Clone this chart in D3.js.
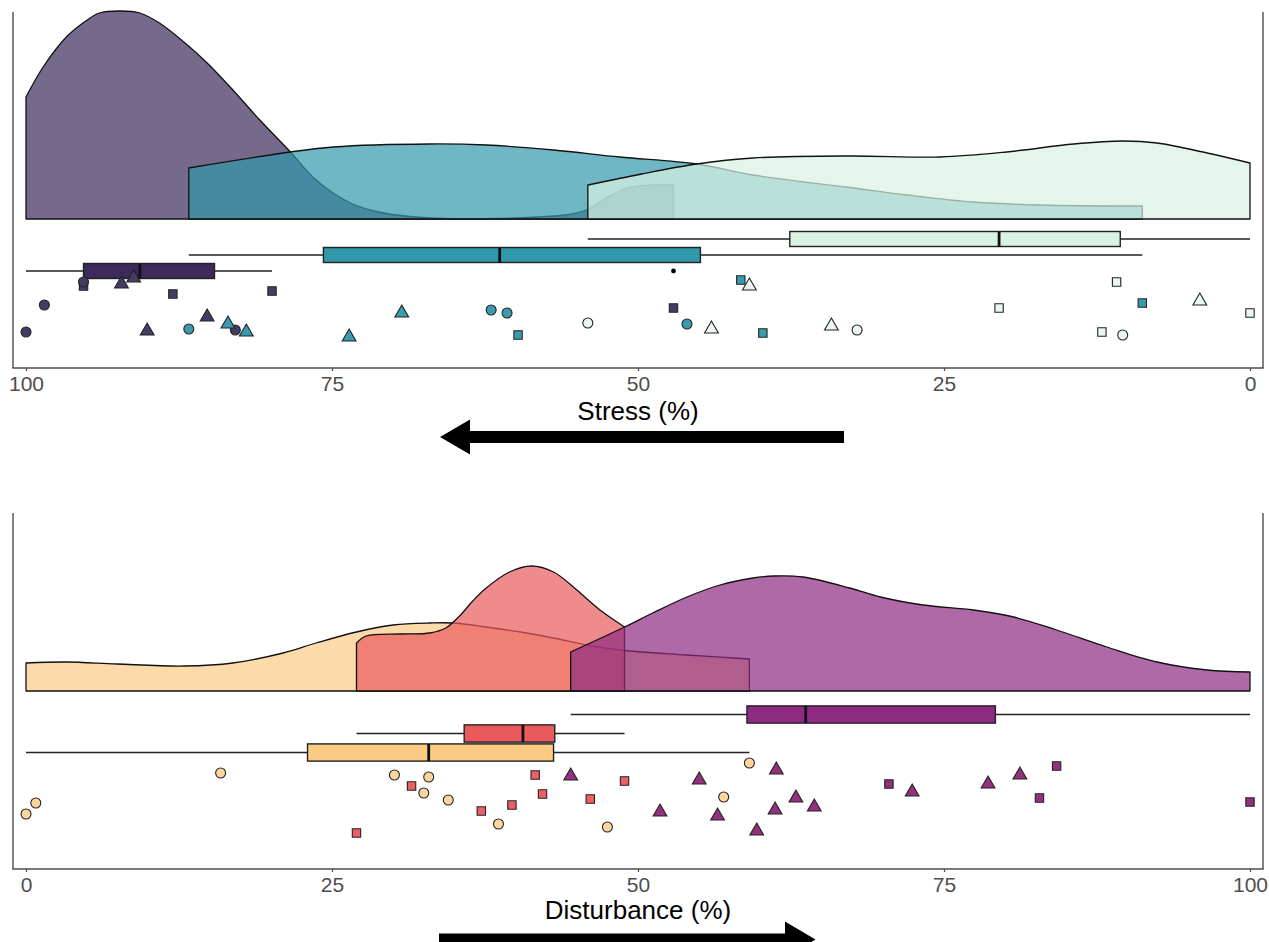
<!DOCTYPE html>
<html><head><meta charset="utf-8">
<script src="https://cdn.jsdelivr.net/npm/d3@7"></script>
<style>
body{margin:0;background:#fff;}
svg{display:block;}
text{font-family:"Liberation Sans", Arial, sans-serif;}
</style>
</head><body>
<svg id="chart" width="1269" height="942"></svg>
<script>
// ---------------- DATA ----------------
const axisTicks = [0, 25, 50, 75, 100];
const stressTitle = "Stress (%)";
const disturbTitle = "Disturbance (%)";

// Stress panel groups
const stressGroups = ["Group 1", "Group 2", "Group 3"];
const stressColors = ["#3b2a5b", "#3298ab", "#d9f2e3"];
const stressPointColors = ["#453c66", "#3a9aae", "#eaf7ef"];

// density curves (value, relative height)
const stressDens1X = [100, 98.6, 96.7, 95.0, 94.0, 92.3, 90.7, 89.1, 87.1, 85.2, 83.1, 80.9, 78.4, 76.3, 73.5, 70.8, 67.0, 62.0, 58.2, 56.0, 54.2, 52.6, 50.9, 48.8, 47.1];
const stressDens1Y = [122, 152, 182, 199, 206, 208, 206, 196, 177, 156, 129, 99, 67, 39, 16, 6, 1, 0.5, 2, 4, 9, 21, 31, 34, 34];
const stressDens2X = [86.7, 78.4, 74.9, 67.0, 62.4, 56.9, 51.5, 45.2, 40.6, 33.0, 28.0, 22.6, 17.2, 8.8];
const stressDens2Y = [51, 67, 72, 75, 74, 69, 62, 55, 44, 32, 24, 17, 14, 13];
const stressDens3X = [54.1, 49.7, 45.2, 40.6, 32.7, 25.3, 19.9, 14.4, 10.4, 7.6, 3.5, 0];
const stressDens3Y = [34, 45, 55, 61, 63, 62, 67, 75, 78, 76, 66, 56];

// box stats: [min, q1, median, q3, max]
const stressBox1 = [79.9, 84.6, 90.7, 95.3, 100];
const stressBox2 = [8.8, 44.9, 61.3, 75.7, 86.7];
const stressBox3 = [0, 10.6, 20.5, 37.6, 54.1];
const stressOutliers1 = [47.1];

// raw points
const stressPtGroup = [0,0,0,0,0,0,0,0,0,0,0,0, 1,1,1,1,1,1,1,1,1,1,1,1, 2,2,2,2,2,2,2,2,2,2,2];
const stressPtValue = [100, 98.5, 95.3, 95.3, 92.2, 91.2, 88.0, 79.9, 90.1, 85.2, 82.9, 47.1,
                       86.7, 83.5, 82.0, 73.6, 69.3, 62.0, 60.7, 59.8, 46.0, 41.6, 39.8, 8.8,
                       54.1, 44.0, 40.9, 34.2, 32.1, 20.5, 12.1, 10.9, 10.4, 4.1, 0];
const stressPtShape = ["circle","circle","square","circle","triangle","triangle","square","square","triangle","triangle","circle","square",
                       "circle","triangle","triangle","triangle","triangle","circle","circle","square","circle","square","square","square",
                       "circle","triangle","triangle","triangle","circle","square","square","square","circle","triangle","square"];
const stressPtJitter = [36, 63, 82, 86, 84, 90, 74, 77, 37, 51, 38, 60,
                        39, 44, 36, 31, 55, 58, 55, 33, 44, 88, 35, 65,
                        45, 39, 82, 42, 38, 60, 36, 86, 33, 67, 55];

// Disturbance panel groups
const disturbGroups = ["Group 1", "Group 2", "Group 3"];
const disturbColors = ["#fbcb84", "#ea5a5c", "#8e2a82"];
const disturbPointColors = ["#fcd69e", "#ec6064", "#93317f"];

const disturbDens1X = [0, 3.3, 7.4, 12.9, 16.9, 21.0, 23.7, 27.0, 30.0, 33.0, 34.9, 37.6, 40.4, 43.1, 45.8, 48.5, 54.0, 59.1];
const disturbDens1Y = [28, 29, 27, 25, 28, 38, 48, 59, 66, 68, 68, 64, 59, 53, 46, 41, 36, 32];
const disturbDens2X = [27.0, 27.8, 30.6, 33.0, 34.3, 35.5, 36.5, 37.6, 39.5, 41.3, 43.1, 45.0, 46.9, 48.9];
const disturbDens2Y = [48, 55, 57, 58, 63, 76, 90, 103, 119, 125, 119, 101, 81, 64];
const disturbDens3X = [44.5, 48.9, 51.2, 54.0, 56.7, 59.4, 61.1, 63.5, 67.3, 69.8, 73.3, 77.4, 80.7, 84.2, 88.3, 92.4, 96.5, 100];
const disturbDens3Y = [39, 64, 78, 94, 106, 113, 115, 114, 103, 94, 86, 81, 74, 61, 44, 29, 21, 19];

const disturbBox1 = [0, 23.0, 32.9, 43.1, 59.1];
const disturbBox2 = [27.0, 35.8, 40.6, 43.2, 48.9];
const disturbBox3 = [44.5, 58.9, 63.7, 79.2, 100];

const disturbPtGroup = [0,0,0,0,0,0,0,0,0,0,0, 1,1,1,1,1,1,1,1, 2,2,2,2,2,2,2,2,2,2,2,2,2,2,2,2];
const disturbPtValue = [0, 0.8, 15.9, 30.1, 32.9, 32.5, 34.5, 38.6, 47.5, 57.0, 59.1,
                        27.0, 31.5, 37.2, 39.7, 41.6, 42.2, 46.1, 48.9,
                        44.5, 51.8, 55.0, 56.5, 59.7, 61.3, 61.2, 62.9, 64.4, 72.4, 78.6, 81.2, 70.5, 82.8, 84.2, 100];
const disturbPtShape = ["circle","circle","circle","circle","circle","circle","circle","circle","circle","circle","circle",
                        "square","square","square","square","square","square","square","square",
                        "triangle","triangle","triangle","triangle","triangle","triangle","triangle","triangle","triangle","triangle","triangle","triangle",
                        "square","square","square","square"];
const disturbPtJitter = [55, 66, 96, 94, 92, 76, 69, 45, 42, 72, 106,
                         36, 83, 58, 64, 94, 75, 70, 88,
                         93, 57, 89, 53, 38, 99, 59, 71, 62, 77, 85, 94, 85, 71, 103, 67];

// ---------------- DRAWING ----------------
const svg = d3.select("#chart");
const AXIS_COL = "#4d4d4d";
const DENS_ALPHA = 0.7;

const shapeMap = {circle: d3.symbolCircle, square: d3.symbolSquare, triangle: d3.symbolTriangle};
const sizeMap = {circle: 78, square: 70, triangle: 82};

function drawPanel(cfg) {
  const g = svg.append("g");
  const x = d3.scaleLinear().domain(cfg.domain).range([26, 1250]);
  const y = d3.scaleLinear().domain([0, 356]).range([cfg.bottom, cfg.bottom - 356]);

  // densities
  cfg.dens.forEach((dd, i) => {
    const pts = dd[0].map((v, k) => [v, dd[1][k]]);
    const area = d3.area()
      .x(d => x(d[0]))
      .y0(y(cfg.densBase))
      .y1(d => y(cfg.densBase + d[1]))
      .curve(d3.curveCatmullRom.alpha(0.5));
    g.append("path")
      .attr("d", area(pts) )
      .attr("fill", cfg.colors[i])
      .attr("fill-opacity", DENS_ALPHA)
      .attr("stroke", "#111")
      .attr("stroke-width", 1.3)
      .attr("stroke-linejoin", "round");
  });

  // boxes
  cfg.boxes.forEach((b, i) => {
    const cy = y(cfg.boxRows[i]);
    const hh = cfg.boxHalf;
    const bg = g.append("g");
    bg.append("line").attr("x1", x(b[0])).attr("x2", x(b[1])).attr("y1", cy).attr("y2", cy)
      .attr("stroke", "#222").attr("stroke-width", 1.4);
    bg.append("line").attr("x1", x(b[3])).attr("x2", x(b[4])).attr("y1", cy).attr("y2", cy)
      .attr("stroke", "#222").attr("stroke-width", 1.4);
    const xa = Math.min(x(b[1]), x(b[3])), xb = Math.max(x(b[1]), x(b[3]));
    bg.append("rect").attr("x", xa).attr("y", cy - hh).attr("width", xb - xa).attr("height", 2 * hh)
      .attr("fill", cfg.colors[i]).attr("stroke", "#222").attr("stroke-width", 1.4);
    bg.append("line").attr("x1", x(b[2])).attr("x2", x(b[2])).attr("y1", cy - hh).attr("y2", cy + hh)
      .attr("stroke", "#111").attr("stroke-width", 2.8);
    (cfg.outliers[i] || []).forEach(o => {
      bg.append("circle").attr("cx", x(o)).attr("cy", cy).attr("r", 2.4).attr("fill", "#000");
    });
  });

  // points
  cfg.ptValue.forEach((v, k) => {
    const s = cfg.ptShape[k];
    g.append("path")
      .attr("d", d3.symbol().type(shapeMap[s]).size(sizeMap[s])())
      .attr("transform", `translate(${x(v)},${y(cfg.ptJitter[k])})`)
      .attr("fill", cfg.ptColors[cfg.ptGroup[k]])
      .attr("stroke", "#222")
      .attr("stroke-width", 1.1);
  });

  // axis frame lines
  const top = cfg.bottom - 356;
  g.append("line").attr("x1", 13).attr("x2", 13).attr("y1", top).attr("y2", cfg.bottom)
    .attr("stroke", AXIS_COL).attr("stroke-width", 1.4);
  g.append("line").attr("x1", 1263).attr("x2", 1263).attr("y1", top).attr("y2", cfg.bottom)
    .attr("stroke", AXIS_COL).attr("stroke-width", 1.4);
  g.append("line").attr("x1", 12.3).attr("x2", 1263.7).attr("y1", cfg.bottom).attr("y2", cfg.bottom)
    .attr("stroke", AXIS_COL).attr("stroke-width", 1.4);

  const ax = g.append("g").attr("transform", `translate(0,${cfg.bottom})`)
    .call(d3.axisBottom(x).tickValues(axisTicks).tickSize(3).tickPadding(5).tickSizeOuter(0));
  ax.select(".domain").remove();
  ax.selectAll(".tick line").attr("stroke", AXIS_COL).attr("stroke-width", 1.2);
  ax.selectAll(".tick text").attr("fill", AXIS_COL).attr("font-size", 21)
    .attr("font-family", "'Liberation Sans', Arial, sans-serif");

  // title
  g.append("text").attr("x", 638).attr("y", cfg.titleY).attr("text-anchor", "middle")
    .attr("font-size", 26).attr("fill", "#000").text(cfg.title);

  // arrow
  const a = cfg.arrow;
  const dir = a.tip < a.tail ? -1 : 1;
  const base = a.tip - dir * a.headLen;
  const p = [
    [a.tail, a.y - a.shaft / 2], [base, a.y - a.shaft / 2], [base, a.y - a.headHalf],
    [a.tip, a.y], [base, a.y + a.headHalf], [base, a.y + a.shaft / 2], [a.tail, a.y + a.shaft / 2]
  ];
  g.append("path").attr("d", "M" + p.map(q => q.join(",")).join("L") + "Z").attr("fill", "#000");
}

drawPanel({
  domain: [100, 0], bottom: 368, densBase: 149,
  colors: stressColors, ptColors: stressPointColors,
  dens: [[stressDens1X, stressDens1Y], [stressDens2X, stressDens2Y], [stressDens3X, stressDens3Y]],
  boxes: [stressBox1, stressBox2, stressBox3], boxRows: [97, 113, 129], boxHalf: 7.5,
  outliers: [stressOutliers1, [], []],
  ptGroup: stressPtGroup, ptValue: stressPtValue, ptShape: stressPtShape, ptJitter: stressPtJitter,
  title: stressTitle, titleY: 420,
  arrow: {tail: 844, tip: 440, y: 437, shaft: 12, headHalf: 17.5, headLen: 30}
});

drawPanel({
  domain: [0, 100], bottom: 869, densBase: 178,
  colors: disturbColors, ptColors: disturbPointColors,
  dens: [[disturbDens1X, disturbDens1Y], [disturbDens2X, disturbDens2Y], [disturbDens3X, disturbDens3Y]],
  boxes: [disturbBox1, disturbBox2, disturbBox3], boxRows: [116.5, 135.5, 154.5], boxHalf: 8.6,
  outliers: [[], [], []],
  ptGroup: disturbPtGroup, ptValue: disturbPtValue, ptShape: disturbPtShape, ptJitter: disturbPtJitter,
  title: disturbTitle, titleY: 919,
  arrow: {tail: 439, tip: 815.5, y: 939.5, shaft: 12, headHalf: 18, headLen: 30.5}
});
</script>
</body></html>
